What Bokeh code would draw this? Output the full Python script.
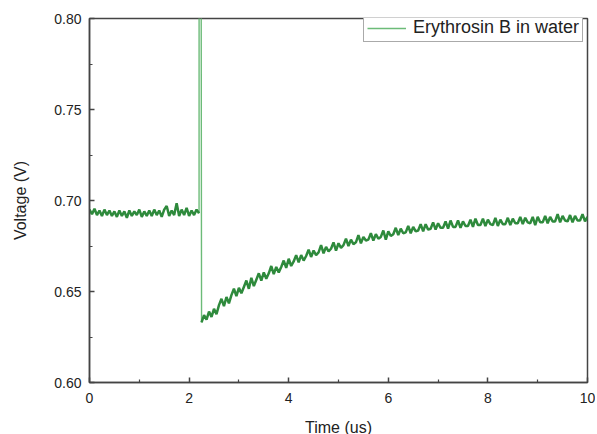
from bokeh.plotting import figure
from bokeh.models import Range1d, FixedTicker, NumeralTickFormatter, Legend, LegendItem
from bokeh.embed import file_html
from bokeh.resources import INLINE

# ---- data ----
x_ticks = [0, 2, 4, 6, 8, 10]
x_minor = [1, 3, 5, 7, 9]
y_ticks = [0.60, 0.65, 0.70, 0.75, 0.80]
y_minor = [0.625, 0.675, 0.725, 0.775]

# pre-pulse baseline, t = 0.00 .. 2.20 us (every 0.05 us)
baseline_t = [round(0.05 * i, 2) for i in range(45)]
baseline_v = [
    0.6950, 0.6925, 0.6955, 0.6920, 0.6945, 0.6915, 0.6950, 0.6920, 0.6945, 0.6915,
    0.6940, 0.6910, 0.6945, 0.6915, 0.6940, 0.6905, 0.6945, 0.6915, 0.6940, 0.6920,
    0.6950, 0.6910, 0.6940, 0.6915, 0.6945, 0.6915, 0.6950, 0.6920, 0.6945, 0.6910,
    0.6950, 0.6970, 0.6915, 0.6945, 0.6920, 0.6985, 0.6915, 0.6950, 0.6920, 0.6960,
    0.6915, 0.6945, 0.6920, 0.6950, 0.6930,
]
# laser pulse: last baseline point, spike top (off scale), bottom of the drop
spike_t = [2.20, 2.205, 2.215, 2.25]
spike_v = [0.6930, 1.50, 1.50, 0.6330]
# recovery, t = 2.25 .. 10.00 us (every 0.05 us)
recovery_t = [round(2.25 + 0.05 * i, 2) for i in range(156)]
recovery_v = [
    0.6330, 0.6370,
    0.6345, 0.6390, 0.6360, 0.6405, 0.6375,
    0.6425, 0.6460, 0.6420, 0.6470, 0.6435,
    0.6480, 0.6515, 0.6475, 0.6520, 0.6490,
    0.6525, 0.6560, 0.6515, 0.6575, 0.6530,
    0.6565, 0.6600, 0.6560, 0.6605, 0.6570,
    0.6600, 0.6640, 0.6595, 0.6635, 0.6605,
    0.6635, 0.6670, 0.6630, 0.6680, 0.6640,
    0.6665, 0.6700, 0.6660, 0.6700, 0.6670,
    0.6695, 0.6730, 0.6690, 0.6725, 0.6700,
    0.6715, 0.6755, 0.6710, 0.6745, 0.6720,
    0.6735, 0.6770, 0.6725, 0.6765, 0.6740,
    0.6755, 0.6790, 0.6750, 0.6785, 0.6760,
    0.6770, 0.6810, 0.6765, 0.6800, 0.6780,
    0.6785, 0.6820, 0.6780, 0.6815, 0.6790,
    0.6800, 0.6835, 0.6785, 0.6830, 0.6805,
    0.6815, 0.6850, 0.6810, 0.6845, 0.6820,
    0.6825, 0.6860, 0.6820, 0.6855, 0.6830,
    0.6835, 0.6870, 0.6830, 0.6870, 0.6840,
    0.6845, 0.6880, 0.6840, 0.6875, 0.6850,
    0.6850, 0.6885, 0.6845, 0.6890, 0.6855,
    0.6855, 0.6890, 0.6850, 0.6885, 0.6860,
    0.6860, 0.6895, 0.6855, 0.6900, 0.6865,
    0.6865, 0.6900, 0.6860, 0.6895, 0.6870,
    0.6865, 0.6905, 0.6860, 0.6895, 0.6870,
    0.6870, 0.6905, 0.6865, 0.6900, 0.6875,
    0.6875, 0.6910, 0.6870, 0.6905, 0.6880,
    0.6875, 0.6910, 0.6865, 0.6910, 0.6880,
    0.6880, 0.6915, 0.6875, 0.6910, 0.6885,
    0.6885, 0.6925, 0.6880, 0.6915, 0.6890,
    0.6885, 0.6920, 0.6880, 0.6915, 0.6890,
    0.6890, 0.6925, 0.6885, 0.6910,
]

series_name = "Erythrosin B in water"
trace_color = "#2e8a3c"
thin_color = "#6cbb78"
font = "Liberation Sans"

p = figure(
    output_backend="svg", toolbar_location=None,
    frame_width=498, frame_height=364,
    min_border_left=89, min_border_right=8, min_border_top=18, min_border_bottom=50,
    x_range=Range1d(0, 10), y_range=Range1d(0.60, 0.80),
    background_fill_color="white", border_fill_color="white",
)
p.xgrid.visible = False
p.ygrid.visible = False
p.outline_line_color = "#444444"
p.outline_line_width = 1.5

r_spike = p.line(spike_t, spike_v, line_color=thin_color, line_width=1.4)
p.line(baseline_t, baseline_v, line_color=trace_color, line_width=2.5)
p.line(recovery_t, recovery_v, line_color=trace_color, line_width=2.5)

for ax in (p.xaxis[0], p.yaxis[0]):
    ax.axis_line_color = "#444444"
    ax.axis_line_width = 1.5
    ax.major_tick_in = 5
    ax.major_tick_out = 0
    ax.minor_tick_in = 3
    ax.minor_tick_out = 0
    ax.major_tick_line_color = "#444444"
    ax.minor_tick_line_color = "#444444"
    ax.major_tick_line_width = 1.5
    ax.minor_tick_line_width = 1.2
    ax.major_label_text_font = font
    ax.major_label_text_font_size = "14px"
    ax.major_label_text_color = "#222222"
    ax.axis_label_text_font = font
    ax.axis_label_text_font_size = "16px"
    ax.axis_label_text_font_style = "normal"
    ax.axis_label_text_color = "#222222"

p.xaxis[0].ticker = FixedTicker(ticks=x_ticks, minor_ticks=x_minor)
p.yaxis[0].ticker = FixedTicker(ticks=y_ticks, minor_ticks=y_minor)
p.yaxis[0].formatter = NumeralTickFormatter(format="0.00")
p.xaxis[0].formatter = NumeralTickFormatter(format="0")
p.xaxis[0].axis_label = "Time (us)"
p.yaxis[0].axis_label = "Voltage (V)"
p.xaxis[0].major_label_standoff = 10
p.yaxis[0].major_label_standoff = 8
p.xaxis[0].axis_label_standoff = 13
p.yaxis[0].axis_label_standoff = 22

legend = Legend(
    items=[LegendItem(label=series_name, renderers=[r_spike])],
    location=(274, 340),
    padding=3, margin=0, spacing=0,
    glyph_width=39, glyph_height=18, label_height=18, label_standoff=7,
    label_text_font=font, label_text_font_size="18px", label_text_color="#222222",
    border_line_color="#555555", border_line_width=1,
    background_fill_color="white", background_fill_alpha=1,
)
p.add_layout(legend)

open("out.html", "w").write(file_html(p, INLINE))
